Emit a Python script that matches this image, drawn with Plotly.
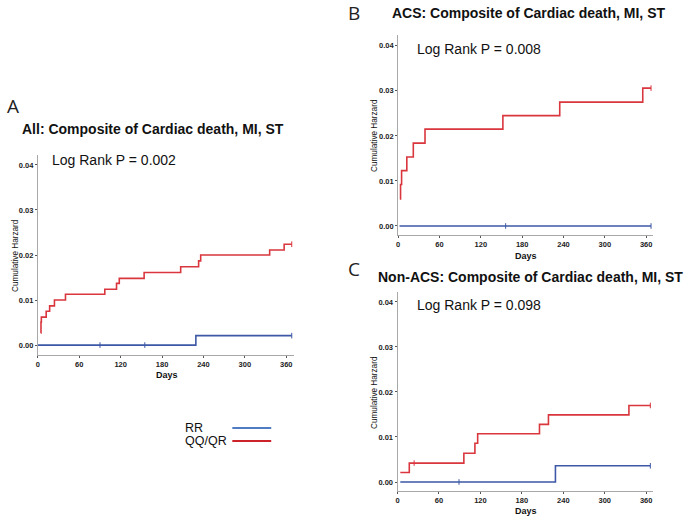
import plotly.graph_objects as go

W, H = 686, 518

# ---- data (days, cumulative hazard) ----
# A: All
a_qq_days = [4, 4.5, 5, 12, 17, 24, 40, 97, 114, 118, 154, 207, 233, 236, 336, 357, 368]
a_qq_haz = [0.0027, 0.0051, 0.0062, 0.0075, 0.0087, 0.0100, 0.0113, 0.0124, 0.0137, 0.0148,
            0.0161, 0.0174, 0.0187, 0.0200, 0.0211, 0.0224, 0.0224]
a_rr_days = [0, 229, 368]
a_rr_haz = [0.0, 0.0021, 0.0021]
a_rr_cens = [90, 155, 368]
a_rr_cens_haz = [0.0, 0.0, 0.0021]
a_qq_cens = [368]
a_qq_cens_haz = [0.0224]

# B: ACS
b_qq_days = [2.5, 3.5, 5, 12.6, 22, 39, 152, 234.5, 355, 367]
b_qq_haz = [0.0060, 0.0092, 0.0123, 0.0153, 0.0184, 0.0215, 0.0245, 0.0275, 0.0306, 0.0306]
b_rr_days = [2, 367]
b_rr_haz = [0.0, 0.0]
b_rr_cens = [156, 367]
b_rr_cens_haz = [0.0, 0.0]
b_qq_cens = [367]
b_qq_cens_haz = [0.0306]

# C: Non-ACS
c_qq_days = [4, 17, 96, 112, 116, 205.5, 218.5, 335, 366]
c_qq_haz = [0.0021, 0.0042, 0.0064, 0.0086, 0.0107, 0.0128, 0.0149, 0.0170, 0.0170]
c_rr_days = [4, 228.6, 366]
c_rr_haz = [0.0, 0.0036, 0.0036]
c_rr_cens = [89, 366]
c_rr_cens_haz = [0.0, 0.0036]
c_qq_cens = [24, 366]
c_qq_cens_haz = [0.0042, 0.0170]

x_ticks = [0, 60, 120, 180, 240, 300, 360]
y_ticks = [0.0, 0.01, 0.02, 0.03, 0.04]

RED = "#d9363e"
BLUE = "#3d58a6"
AXIS_GREY = "#a8a8a8"
TICK_FONT = dict(family="Liberation Sans Narrow, Liberation Sans, Arial", size=7.5, color="#222", weight="bold")


def px_x(p):
    return p / W


def px_y(p):
    return 1 - p / H


# panel geometry in pixels: (left, right, top, bottom, x max day, y min, y max)
panels = {
    "A": dict(l=36, r=293, t=155, b=355, xmax=371.5, ymin=-0.0022, ymax=0.0422),
    "B": dict(l=397.3, r=653, t=35, b=235, xmax=370, ymin=-0.002, ymax=0.0424),
    "C": dict(l=396.7, r=653, t=292, b=491, xmax=370, ymin=-0.002, ymax=0.0422),
}

fig = go.Figure()

series = {
    "A": (a_rr_days, a_rr_haz, a_rr_cens, a_rr_cens_haz, a_qq_days, a_qq_haz, a_qq_cens, a_qq_cens_haz),
    "B": (b_rr_days, b_rr_haz, b_rr_cens, b_rr_cens_haz, b_qq_days, b_qq_haz, b_qq_cens, b_qq_cens_haz),
    "C": (c_rr_days, c_rr_haz, c_rr_cens, c_rr_cens_haz, c_qq_days, c_qq_haz, c_qq_cens, c_qq_cens_haz),
}

for i, (name, g) in enumerate(panels.items()):
    suffix = "" if i == 0 else str(i + 1)
    xa, ya = "x" + suffix, "y" + suffix
    rr_d, rr_h, rr_c, rr_ch, qq_d, qq_h, qq_c, qq_ch = series[name]

    # censoring ticks
    fig.add_trace(go.Scatter(x=rr_c, y=rr_ch, mode="markers", xaxis=xa, yaxis=ya, showlegend=False,
                             marker=dict(symbol="line-ns", size=4, line=dict(color=BLUE, width=1))))
    fig.add_trace(go.Scatter(x=qq_c, y=qq_ch, mode="markers", xaxis=xa, yaxis=ya, showlegend=False,
                             marker=dict(symbol="line-ns", size=4, line=dict(color=RED, width=1))))
    fig.add_trace(go.Scatter(x=rr_d, y=rr_h, mode="lines", line=dict(color=BLUE, width=1.6, shape="hv"),
                             xaxis=xa, yaxis=ya, showlegend=False))
    fig.add_trace(go.Scatter(x=qq_d, y=qq_h, mode="lines", line=dict(color=RED, width=1.6, shape="hv"),
                             xaxis=xa, yaxis=ya, showlegend=False))

    axis_common = dict(showline=True, linecolor=AXIS_GREY, linewidth=1, showgrid=False, zeroline=False,
                       ticks="outside", ticklen=2, tickcolor="#555", tickfont=TICK_FONT,
                       ticklabelstandoff=0)
    fig.update_layout(**{
        "xaxis" + suffix: dict(domain=[px_x(g["l"]), px_x(g["r"])], range=[0, g["xmax"]],
                               tickvals=x_ticks, anchor=ya, **axis_common),
        "yaxis" + suffix: dict(domain=[px_y(g["b"]), px_y(g["t"])], range=[g["ymin"], g["ymax"]],
                               tickvals=y_ticks, tickformat=".2f", anchor=xa, **axis_common),
    })

annotations = []


def text(x, y, s, size, bold=False, anchor="left", angle=0, family="Liberation Sans, Arial", color="#111"):
    annotations.append(dict(x=px_x(x), y=px_y(y), xref="paper", yref="paper", text=s, showarrow=False,
                            xanchor=anchor, yanchor="middle", textangle=angle,
                            font=dict(size=size, family=family, color=color,
                                      weight="bold" if bold else "normal")))


# panel letters
text(3, 106, "A", 19, family="Open Sans, Liberation Sans", color="#222")
text(345, 13, "B", 19, family="Open Sans, Liberation Sans", color="#222")
text(345, 269, "C", 19, family="Open Sans, Liberation Sans", color="#222")

# titles
text(18, 129, "All: Composite of Cardiac death, MI, ST", 14, bold=True)
text(528, 13, "ACS: Composite of Cardiac death, MI, ST", 14, bold=True, anchor="center")
text(530, 277, "Non-ACS: Composite of Cardiac death, MI, ST", 14, bold=True, anchor="center")

# log rank
text(48, 160, "Log Rank P = 0.002", 14)
text(414, 49, "Log Rank P = 0.008", 14)
text(414, 305, "Log Rank P = 0.098", 14)

# axis titles
text(165, 375, "Days", 9, bold=True, anchor="center")
text(526, 256, "Days", 9, bold=True, anchor="center")
text(526, 511, "Days", 9, bold=True, anchor="center")
text(13, 255, "Cumulative Harzard", 8.2, anchor="center", angle=-90)
text(373, 135, "Cumulative Harzard", 8.2, anchor="center", angle=-90)
text(373, 392, "Cumulative Harzard", 8.2, anchor="center", angle=-90)

# legend
legend_names = ["RR", "QQ/QR"]
legend_colors = ["#4f7cc2", "#cc2229"]
shapes = []
for k, (nm, col) in enumerate(zip(legend_names, legend_colors)):
    yy = 428 + 13 * k
    text(182, yy, nm, 12.5)
    shapes.append(dict(type="line", xref="paper", yref="paper", x0=px_x(231), x1=px_x(270),
                       y0=px_y(yy), y1=px_y(yy), line=dict(color=col, width=2.2)))

fig.update_layout(
    width=W, height=H,
    margin=dict(l=0, r=0, t=0, b=0),
    paper_bgcolor="white", plot_bgcolor="white",
    annotations=annotations, shapes=shapes,
    showlegend=False,
)

# page body has a default 8px margin; remove it so the figure sits at the window's corner
fig.write_html("out.html", config={"displayModeBar": False},
               post_script="document.body.style.margin='0';")
